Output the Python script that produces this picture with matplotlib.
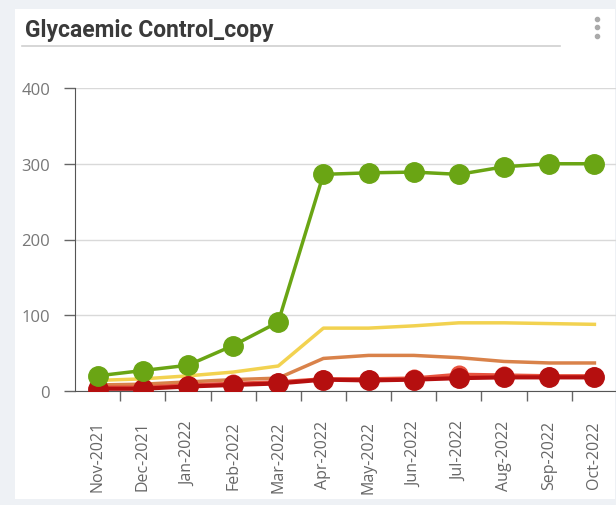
import matplotlib
matplotlib.use('Agg')
from matplotlib import pyplot as plt
from matplotlib.patches import Rectangle

months = ['Nov-2021', 'Dec-2021', 'Jan-2022', 'Feb-2022', 'Mar-2022', 'Apr-2022',
          'May-2022', 'Jun-2022', 'Jul-2022', 'Aug-2022', 'Sep-2022', 'Oct-2022']
green_vals = [20, 27, 34, 60, 91, 286, 288, 289, 286, 296, 300, 300]
yellow_vals = [14, 16, 20, 25, 33, 83, 83, 86, 90, 90, 89, 88]
orange_vals = [8, 9, 12, 15, 17, 43, 47, 47, 44, 39, 37, 37]
light_red_vals = [5, 5, 8, 10, 12, 16, 16, 17, 22, 21, 20, 20]
dark_red_vals = [3, 3, 6, 8, 10, 15, 14, 15, 17, 18, 18, 18]
y_ticks = [0, 100, 200, 300, 400]

W, H = 616, 506
fig = plt.figure(figsize=(W / 100, H / 100), dpi=100)
fig.patch.set_facecolor('#eef1f5')

# white card behind everything
fig.patches.append(Rectangle((15 / W, 1 - 500 / H), 600 / W, 490 / H,
                             transform=fig.transFigure, facecolor='white',
                             edgecolor='none', zorder=-5))

fig.text(25 / W, 1 - 31 / H, 'Glycaemic Control_copy', fontsize=16.5,
         fontweight='bold', family='Roboto', color='#3a3a3a', va='center')
fig.add_artist(plt.Line2D([22 / W, 560 / W], [1 - 47 / H, 1 - 47 / H],
                          transform=fig.transFigure, color='#d0d0d0', lw=1.2))
for yy in [20, 28, 37]:
    fig.add_artist(plt.Line2D([597 / W], [1 - yy / H], transform=fig.transFigure,
                              marker='o', ms=3, color='#aaaaaa', lw=0))

ax = fig.add_axes([75 / W, 1 - 392 / H, (617 - 75) / W, (392 - 89) / H])
ax.set_facecolor('none')
x = list(range(len(months)))

ax.plot(x, yellow_vals, color='#f2d250', lw=2.5, zorder=3)
ax.plot(x, orange_vals, color='#d9824a', lw=2.5, zorder=3)
ax.plot(x, light_red_vals, color='#e8523e', lw=2.5, marker='o', ms=12, zorder=4)
ax.plot(x, dark_red_vals, color='#b50f0f', lw=3, marker='o', ms=14, zorder=5)
ax.plot(x, green_vals, color='#6aa514', lw=2.5, marker='o', ms=14, zorder=6)

ax.set_xlim(-0.5, 11.5)
ax.set_ylim(0, 400)
ax.set_yticks(y_ticks)
ax.set_xticks(x)
ax.set_xticklabels(months, rotation=90, family='Open Sans', fontsize=11.5, color='#666666')
ax.set_xticks([i + 0.5 for i in range(11)], minor=True)
ax.tick_params(axis='x', which='major', length=0, pad=21)
ax.tick_params(axis='x', which='minor', length=7, color='#666666', width=1)
ax.tick_params(axis='y', length=8, color='#666666', width=1, labelsize=12,
               labelcolor='#777777', pad=10)
for lab in ax.get_yticklabels():
    lab.set_family('Open Sans')

ax.grid(axis='y', color='#d9d9d9', lw=1)
ax.set_axisbelow(True)
for s in ['top', 'right']:
    ax.spines[s].set_visible(False)
ax.spines['left'].set_color('#555555')
ax.spines['bottom'].set_color('#555555')

fig.savefig('out.png', dpi=100, facecolor=fig.get_facecolor())
